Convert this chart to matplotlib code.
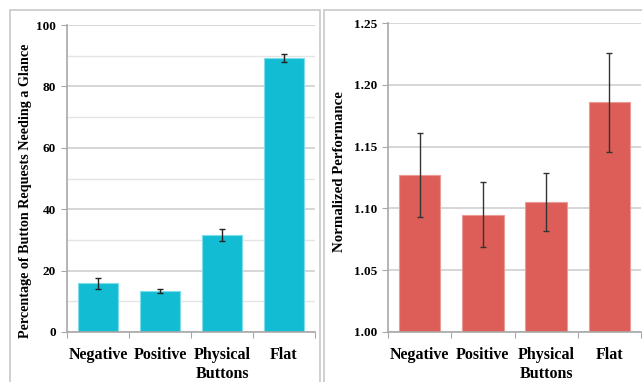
import matplotlib
matplotlib.use("Agg")
import matplotlib.pyplot as plt
import numpy as np
from matplotlib.patches import Rectangle
from matplotlib.ticker import MultipleLocator

# data
categories = ["Negative", "Positive", "Physical\nButtons", "Flat"]
glance_pct = [15.8, 13.3, 31.6, 89.4]
glance_err = [1.7, 0.7, 2.0, 1.3]
performance = [1.127, 1.095, 1.105, 1.186]
performance_err = [0.034, 0.026, 0.0235, 0.040]

CYAN = "#12bdd3"
RED = "#dd5e58"
GRID = "#d0d0d0"
SPINE = "#a8a8a8"

plt.rcParams["font.family"] = ["Liberation Serif", "DejaVu Serif"]
plt.rcParams["font.weight"] = "bold"

fig = plt.figure(figsize=(6.42, 3.82), dpi=100)

# panel frames
W, H = 642, 382
fig.patches.append(Rectangle((10 / W, -0.05), 310 / W, 1.05 - 10 / H,
                             transform=fig.transFigure, fill=False,
                             edgecolor="#c8c8c8", lw=1.2))
fig.patches.append(Rectangle((324 / W, -0.05), 330 / W, 1.05 - 10 / H,
                             transform=fig.transFigure, fill=False,
                             edgecolor="#c8c8c8", lw=1.2))


def style_axes(ax, ylim, major, minor=None):
    x = np.arange(len(categories))
    ax.set_xlim(-0.5, len(categories) - 0.5)
    ax.set_ylim(*ylim)
    ax.yaxis.set_major_locator(MultipleLocator(major))
    if minor:
        ax.yaxis.set_minor_locator(MultipleLocator(minor))
        ax.grid(True, which="minor", axis="y", color="#e4e4e4", lw=1.0)
    ax.grid(True, which="major", axis="y", color=GRID, lw=1.2)
    ax.set_axisbelow(True)
    for s in ["top", "right"]:
        ax.spines[s].set_visible(False)
    for s in ["left", "bottom"]:
        ax.spines[s].set_color(SPINE)
        ax.spines[s].set_linewidth(1.2)
    # category labels in between boundary ticks
    ax.set_xticks(np.arange(-0.5, len(categories)), minor=False)
    ax.set_xticklabels([])
    ax.set_xticks(x, minor=True)
    ax.set_xticklabels(categories, minor=True, fontsize=11.5, fontweight="bold",
                       linespacing=1.2)
    ax.tick_params(axis="x", which="minor", length=0, pad=11)
    ax.tick_params(axis="x", which="major", length=4, color=SPINE, direction="out")
    ax.tick_params(axis="y", which="major", length=4, color=SPINE, direction="out",
                   labelsize=9.5, pad=4)
    ax.tick_params(axis="y", which="minor", length=0)
    for lab in ax.get_yticklabels():
        lab.set_fontweight("bold")


# left: glances
ax1 = fig.add_axes([67 / W, 50 / H, 248 / W, 307 / H])
x = np.arange(len(categories))
ax1.bar(x, glance_pct, width=0.66, color=CYAN, edgecolor="#7fdcea", linewidth=0.8,
        yerr=glance_err, error_kw=dict(ecolor="#222222", elinewidth=1.0,
                                       capsize=2, capthick=1.0))
style_axes(ax1, (0, 100), 20, 10)
ax1.set_ylabel("Percentage of Button Requests Needing a Glance",
               fontsize=10.2, fontweight="bold")
ax1.yaxis.set_label_coords(-0.14, 0.46)

# right: performance
ax2 = fig.add_axes([388 / W, 50 / H, 253 / W, 309 / H])
ax2.bar(x, performance, width=0.66, color=RED, edgecolor="#eb9a96", linewidth=0.8,
        yerr=performance_err, error_kw=dict(ecolor="#333333", elinewidth=1.0,
                                            capsize=2, capthick=1.0))
style_axes(ax2, (1.0, 1.25), 0.05)
ax2.yaxis.set_major_formatter(plt.FormatStrFormatter("%.2f"))
for lab in ax2.get_yticklabels():
    lab.set_fontweight("bold")
ax2.set_ylabel("Normalized Performance", fontsize=10.7, fontweight="bold")
ax2.yaxis.set_label_coords(-0.165, 0.52)

fig.savefig("out.png", dpi=100)
